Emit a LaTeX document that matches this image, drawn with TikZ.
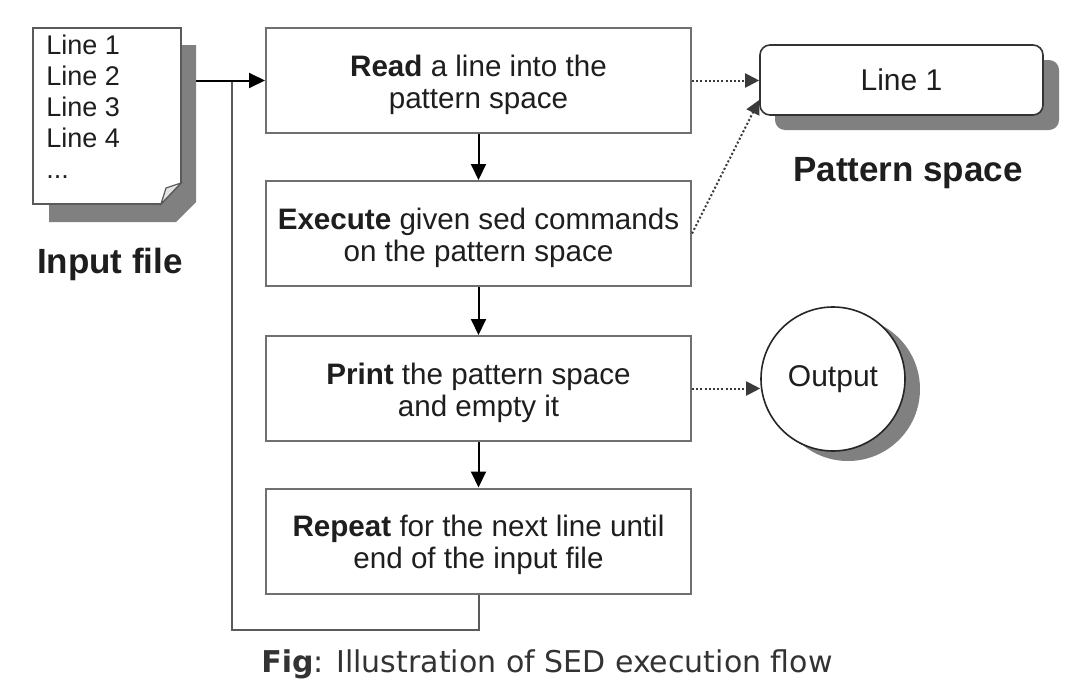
\documentclass[tikz,border=0pt]{standalone}
\usepackage{fontspec}
\setmainfont{Liberation Sans}
\newfontfamily\capfont{DejaVu Sans}
\usetikzlibrary{arrows.meta,calc}
\definecolor{boxgray}{HTML}{707070}
\definecolor{linegray}{HTML}{5A5A5A}
\definecolor{dotgray}{HTML}{3A3A3A}
\definecolor{shadowgray}{HTML}{808080}
\definecolor{txt}{HTML}{1E1E1E}
\definecolor{captxt}{HTML}{333333}
\begin{document}
\begin{tikzpicture}[x=0.5pt,y=-0.5pt,
  flowbox/.style={draw=boxgray, line width=1pt, fill=white, minimum width=212.5pt, minimum height=52.5pt, inner sep=0pt},
  flowtext/.style={inner sep=0pt, align=center, yshift=-2pt, font=\fontsize{14.8}{16}\selectfont, text=txt},
  line/.style={draw=linegray, line width=1pt},
  arr/.style={line, -{Triangle[length=8pt,width=7.5pt]}, black},
  dotarr/.style={draw=dotgray, line width=1pt, dash pattern=on 1pt off 1.1pt, -{Triangle[length=7pt,width=7pt]}},
  doctxt/.style={anchor=north west, inner sep=0pt, align=left, font=\fontsize{13.5}{15.5}\selectfont, text=txt},
  lbl/.style={font=\fontsize{17.5}{20}\selectfont\bfseries, text=txt, inner sep=0pt},
  shadowfill/.style={fill=shadowgray, draw=none}
]
\useasboundingbox (0,0) rectangle (1087,696);
\fill[white] (0,0) rectangle (1087,696);

% flow boxes
\node[flowbox, label={[flowtext]center:{\textbf{Read} a line into the\\pattern space}}] (box1) at (478.5,80.5) {};
\node[flowbox, label={[flowtext]center:{\textbf{Execute} given sed commands\\on the pattern space}}] (box2) at (478.5,233.5) {};
\node[flowbox, label={[flowtext]center:{\textbf{Print} the pattern space\\and empty it}}] (box3) at (478.5,388.5) {};
\node[flowbox, label={[flowtext]center:{\textbf{Repeat} for the next line until\\end of the input file}}] (box4) at (478.5,541) {};

% input file (invisible anchor node)
\node[inner sep=0pt, minimum width=74pt, minimum height=88pt] (doc) at (107,116) {};

% connectors
\coordinate (lb) at (232,630);
\coordinate (j) at (232,80.5);
\draw[line] (box4.south) |- (lb) -- (j);
\draw[arr] (doc.east |- box1.west) -- (box1.west);
\draw[arr] (box1.south) -- (box2.north);
\draw[arr] (box2.south) -- (box3.north);
\draw[arr] (box3.south) -- (box4.north);

% input file drawing
\fill[shadowfill] (49,45) -- (196,45) -- (196,202) -- (176,222) -- (49,222) -- cycle;
\draw[draw=linegray, line width=0.8pt, fill=white] (33,28) -- (181,28) -- (181,183) -- (161,204) -- (33,204) -- cycle;
\draw[draw=linegray, line width=0.6pt, fill=gray!22] (161,204) -- (166,188) -- (181,183) -- cycle;
\node[doctxt] (lines) at (46,35) {Line 1\\Line 2\\Line 3\\Line 4\\...};
\node[lbl] (inlbl) at (110,264) {Input file};

% pattern space
\fill[shadowfill, rounded corners=5pt] (775,60) rectangle (1059,130);
\node[draw=black!80, line width=0.8pt, fill=white, rounded corners=5pt, minimum width=141.5pt, minimum height=35pt, inner sep=0pt, font=\fontsize{15}{16}\selectfont, text=txt] (ps) at (901.5,80) {Line 1};
\node[lbl] (pslbl) at (908,173) {Pattern space};

% output
\fill[shadowfill] (848,389) circle (36pt);
\node[circle, draw=black!85, line width=0.8pt, fill=white, minimum size=72pt, inner sep=0pt, font=\fontsize{15}{16}\selectfont, text=txt] (out) at (833,379) {Output};

% dotted arrows
\draw[dotarr] (box1.east) -- (ps.west |- box1.east);
\draw[dotarr] (box2.east) -- ([yshift=-10pt]ps.west);
\draw[dotarr] (box3.east) -- (box3.east -| out.west);

% caption
\node[font=\capfont\fontsize{15}{18}\selectfont, text=captxt, inner sep=0pt] (cap) at (547,664) {\textbf{Fig}: Illustration of SED execution flow};
\end{tikzpicture}
\end{document}
